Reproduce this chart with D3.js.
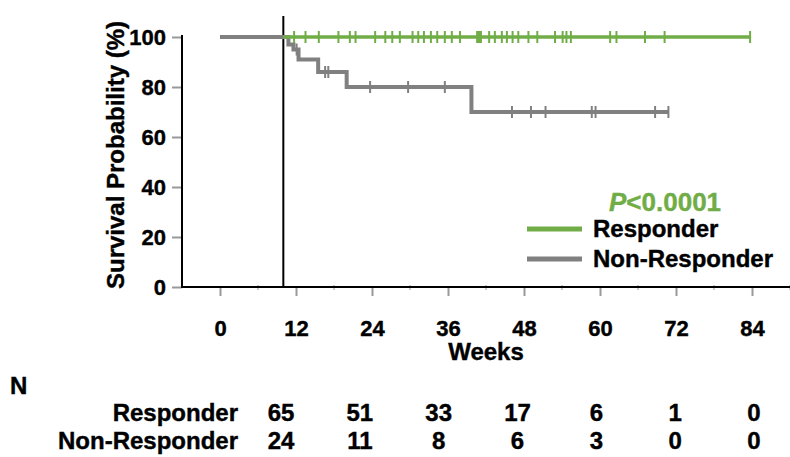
<!DOCTYPE html>
<html>
<head>
<meta charset="utf-8">
<script src="https://cdn.jsdelivr.net/npm/d3@7"></script>
<style>
  body { margin: 0; background: #fff; }
  svg { display: block; font-family: "Liberation Sans", Arial, sans-serif; font-weight: bold; }
  svg text { stroke: currentColor; stroke-width: 0.4px; }
</style>
</head>
<body>
<svg width="790" height="457"></svg>
<script>
// x axis ticks (weeks) and y axis ticks (%)
const weekTicks = [0, 12, 24, 36, 48, 60, 72, 84];
const pctTicks = [0, 20, 40, 60, 80, 100];

// landmark line (weeks)
const landmark = 10;

// Responder: stays at 100%, censor marks (weeks)
const respStart = 10;
const respEnd = 83.7;
const respCensor = [11.7, 13.5, 15.6, 18.7, 20.5, 21.4, 24.5, 26.1, 27.2, 28.4,
  30.4, 31.3, 32.2, 33.3, 34.3, 35.5, 36.6, 37.9, 40.6, 40.9, 41.2, 42.5, 43.4,
  44.5, 45.3, 46.2, 47.1, 48.7, 50.1, 52.9, 54.1, 54.7, 55.4, 61.6, 62.6, 67.1,
  70.2, 83.7];

// Non-Responder: step times and survival after each step
const nonTimes = [0, 10.8, 11.6, 12.4, 15.5, 20.0, 39.7];
const nonSurv = [100, 97, 95, 91, 86, 80, 70];
const nonEnd = 70.8;
const nonCensor = [12.1, 16.6, 17.1, 23.7, 29.7, 35.5, 46.1, 49.1, 51.4, 58.7,
  59.3, 68.7, 70.8];

// numbers at risk
const riskWeeks = [12, 24, 36, 48, 60, 72, 84];
const respN = [65, 51, 33, 17, 6, 1, 0];
const nonN = [24, 11, 8, 6, 3, 0, 0];

const green = "#70ad47";
const grey = "#808080";

const svg = d3.select("svg");
const x = d3.scaleLinear().domain([0, 84]).range([220, 752]);
const y = d3.scaleLinear().domain([0, 100]).range([287, 37]);

// y axis
const yAxis = svg.append("g")
  .attr("transform", "translate(182,0)")
  .call(d3.axisLeft(y).tickValues(pctTicks).tickSize(10).tickPadding(6).tickSizeOuter(0));
yAxis.select(".domain").remove();
yAxis.selectAll(".tick line").attr("stroke", "#999").attr("stroke-width", 2);
yAxis.selectAll("text").attr("font-size", 22).attr("fill", "#000").attr("color", "#000").attr("dy", "0.36em");
svg.append("line")
  .attr("x1", 182).attr("x2", 182).attr("y1", y(100) - 2).attr("y2", y(0) + 1)
  .attr("stroke", "#000").attr("stroke-width", 2);

// x axis
const xAxis = svg.append("g")
  .attr("transform", "translate(0,288)")
  .call(d3.axisBottom(x).tickValues(weekTicks).tickSize(8).tickPadding(24).tickSizeOuter(0));
xAxis.select(".domain").remove();
xAxis.selectAll(".tick line").attr("stroke", "#999").attr("stroke-width", 2);
xAxis.selectAll("text").attr("font-size", 22).attr("fill", "#000").attr("color", "#000");
// minor marks between the labels
svg.selectAll(".minor")
  .data(weekTicks.map(d => d + 6))
  .join("line")
  .attr("x1", d => x(d)).attr("x2", d => x(d))
  .attr("y1", 285).attr("y2", 290)
  .attr("stroke", "#bbb").attr("stroke-width", 1.5);
svg.append("line")
  .attr("x1", 181).attr("x2", 790).attr("y1", y(0)).attr("y2", y(0))
  .attr("stroke", "#000").attr("stroke-width", 2);

// axis titles
svg.append("text")
  .attr("transform", "translate(124,155) rotate(-90)")
  .attr("text-anchor", "middle")
  .attr("font-size", 24)
  .text("Survival Probability (%)");
svg.append("text")
  .attr("x", x(42)).attr("y", 360)
  .attr("text-anchor", "middle")
  .attr("font-size", 24)
  .text("Weeks");

// landmark line
svg.append("line")
  .attr("x1", x(landmark)).attr("x2", x(landmark))
  .attr("y1", 16).attr("y2", y(0))
  .attr("stroke", "#000").attr("stroke-width", 2);

// Non-Responder curve
const stepPts = [];
nonTimes.forEach((t, i) => {
  if (i > 0) stepPts.push([t, nonSurv[i - 1]]);
  stepPts.push([t, nonSurv[i]]);
});
stepPts.push([nonEnd, nonSurv[nonSurv.length - 1]]);
const line = d3.line().x(d => x(d[0])).y(d => y(d[1]));
svg.append("path")
  .attr("d", line(stepPts))
  .attr("fill", "none").attr("stroke", grey).attr("stroke-width", 4);

function survAt(t) {
  let s = 100;
  nonTimes.forEach((tt, i) => { if (tt <= t) s = nonSurv[i]; });
  return s;
}
svg.selectAll(".ncens")
  .data(nonCensor)
  .join("line")
  .attr("x1", d => x(d)).attr("x2", d => x(d))
  .attr("y1", d => y(survAt(d)) - 6).attr("y2", d => y(survAt(d)) + 6)
  .attr("stroke", grey).attr("stroke-width", 2);

// Responder curve
svg.append("path")
  .attr("d", line([[respStart, 100], [respEnd, 100]]))
  .attr("fill", "none").attr("stroke", green).attr("stroke-width", 3.5);
svg.selectAll(".rcens")
  .data(respCensor)
  .join("line")
  .attr("x1", d => x(d)).attr("x2", d => x(d))
  .attr("y1", y(100) - 6).attr("y2", y(100) + 6)
  .attr("stroke", green).attr("stroke-width", 2);

// legend
const pText = svg.append("text")
  .attr("x", 609).attr("y", 211)
  .attr("font-size", 26).attr("fill", green).attr("color", green);
pText.append("tspan").attr("font-style", "italic").text("P");
pText.append("tspan").text("<0.0001");

const legend = [["Responder", green], ["Non-Responder", grey]];
legend.forEach((d, i) => {
  const ly = 229 + i * 30;
  svg.append("line")
    .attr("x1", 527).attr("x2", 582).attr("y1", ly).attr("y2", ly)
    .attr("stroke", d[1]).attr("stroke-width", 5);
  svg.append("text")
    .attr("x", 593).attr("y", ly + 8)
    .attr("font-size", 24)
    .text(d[0]);
});

// number at risk table
const col = d3.scalePoint().domain(riskWeeks).range([281, 754]);
svg.append("text").attr("x", 10).attr("y", 394).attr("font-size", 24).text("N");
[["Responder", respN, 421], ["Non-Responder", nonN, 449]].forEach(r => {
  svg.append("text")
    .attr("x", 238).attr("y", r[2])
    .attr("text-anchor", "end").attr("font-size", 24)
    .text(r[0]);
  svg.selectAll(null)
    .data(r[1])
    .join("text")
    .attr("x", (d, i) => col(riskWeeks[i])).attr("y", r[2])
    .attr("text-anchor", "middle").attr("font-size", 24)
    .text(d => d);
});
</script>
</body>
</html>
